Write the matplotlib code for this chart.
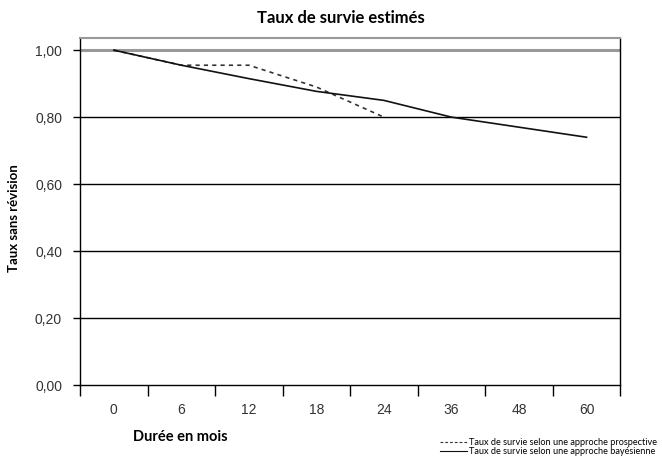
import matplotlib
matplotlib.use("Agg")
import matplotlib.pyplot as plt
from matplotlib.lines import Line2D
import numpy as np

# months shown as categories
durees = ["0", "6", "12", "18", "24", "36", "48", "60"]
prospective = [1.00, 0.955, 0.955, 0.89, 0.80]
bayesienne = [1.00, 0.955, 0.915, 0.877, 0.85, 0.80, 0.77, 0.74]
y_ticks = [0.0, 0.2, 0.4, 0.6, 0.8, 1.0]
y_labels = ["0,00", "0,20", "0,40", "0,60", "0,80", "1,00"]

label_font = ["Lato", "DejaVu Sans"]
tick_font = ["Liberation Sans", "DejaVu Sans"]

fig = plt.figure(figsize=(6.62, 4.59), dpi=100)
ax = fig.add_axes([0.121, 0.161, 0.816, 0.756])

x = np.arange(len(durees))
ax.plot(x[:len(prospective)], prospective, color="#333333", lw=1.2,
        linestyle=(0, (2.5, 2.5)), zorder=3)
ax.plot(x, bayesienne, color="#111111", lw=1.2, zorder=4)

# horizontal gridlines
for v in y_ticks[1:-1]:
    ax.axhline(v, color="black", lw=1.0, zorder=1)
ax.axhline(1.0, color="#999999", lw=2.2, zorder=1)

ax.set_xlim(-0.5, len(durees) - 0.5)
ax.set_ylim(0, 1.036)

for s in ["left", "right", "bottom"]:
    ax.spines[s].set_color("black")
    ax.spines[s].set_linewidth(1.0)
ax.spines["top"].set_color("#999999")
ax.spines["top"].set_linewidth(1.5)

ax.set_yticks(y_ticks)
ax.set_yticklabels(y_labels, fontfamily=tick_font, fontsize=10, color="#333333")
ax.tick_params(axis="y", length=5, width=1, pad=8)

ax.set_xticks(np.arange(-0.5, len(durees), 1.0))
ax.set_xticklabels([])
ax.tick_params(axis="x", which="major", length=8, width=1)
ax.set_xticks(x, minor=True)
ax.set_xticklabels(durees, minor=True, fontfamily=tick_font, fontsize=10,
                   color="#333333")
ax.tick_params(axis="x", which="minor", length=0, pad=13)

fig.text(0.515, 0.960, "Taux de survie estimés", ha="center", va="center",
         fontsize=12, fontweight="bold", fontfamily=label_font)
fig.text(0.272, 0.048, "Durée en mois", ha="center", va="center",
         fontsize=10.5, fontweight="bold", fontfamily=label_font)
fig.text(0.021, 0.525, "Taux sans révision", ha="center", va="center",
         rotation=90, fontsize=9.5, fontweight="bold", fontfamily=label_font)

handles = [
    Line2D([], [], color="#333333", lw=0.8, linestyle=(0, (2.5, 1.8))),
    Line2D([], [], color="#111111", lw=0.8),
]
labels = ["Taux de survie selon une approche prospective",
          "Taux de survie selon une approche bayésienne"]
fig.legend(handles, labels, loc="lower right", bbox_to_anchor=(1.005, -0.012),
           frameon=False, handlelength=3.0, handletextpad=0.2,
           labelspacing=0.05, prop={"family": label_font, "size": 6.6})

fig.savefig("out.png", dpi=100)
